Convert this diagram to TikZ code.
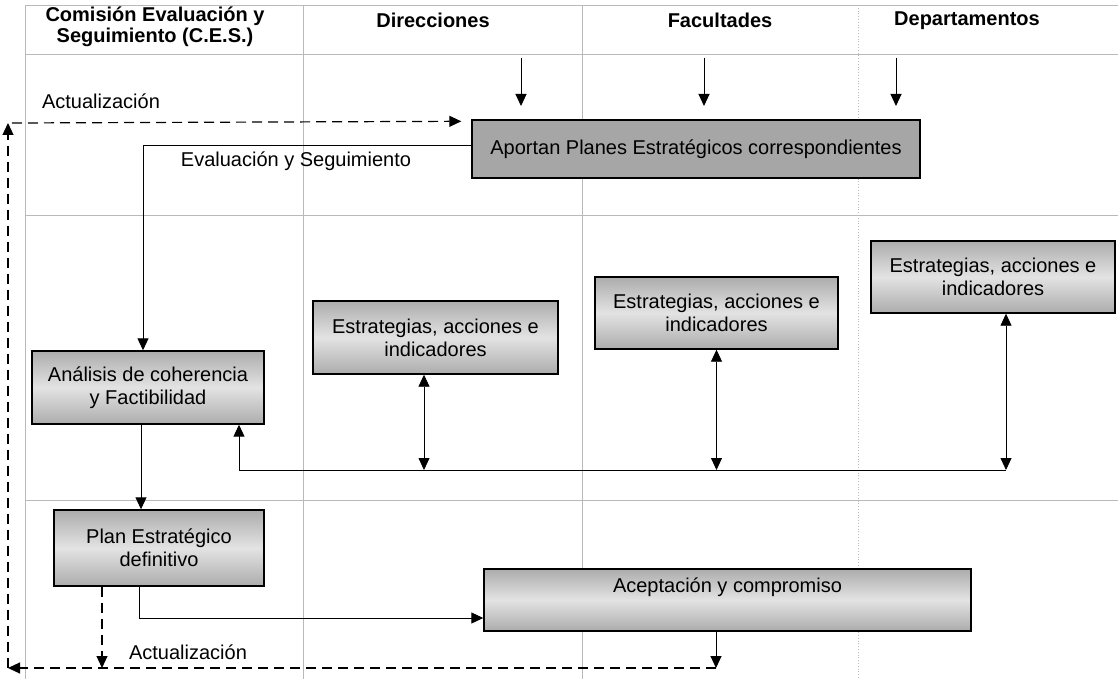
\documentclass[tikz,border=0pt]{standalone}
\usepackage{fontspec}
\setmainfont{Liberation Sans}
\usetikzlibrary{arrows.meta}

\tikzset{
  caja/.style={draw, line width=0.7pt, top color=gray!65, bottom color=gray!65, middle color=gray!22, align=center},
  cabecera/.style={font=\bfseries\fontsize{10pt}{10.5pt}\selectfont, align=center},
  rejilla/.style={draw=gray!55, line width=0.4pt},
  flecha/.style={-{Triangle[length=6pt,width=5.5pt]}, line width=0.5pt},
  discont/.style={flecha, line width=0.6pt, dash pattern=on 5pt off 3pt},
  doble/.style={{Triangle[length=6pt,width=5.5pt]}-{Triangle[length=6pt,width=5.5pt]}, line width=0.4pt},
}

\begin{document}
\begin{tikzpicture}[x=0.5pt, y=-0.5pt, every node/.style={font=\fontsize{10pt}{11.5pt}\selectfont}]
    \useasboundingbox (0,0) rectangle (1118,679);

    \draw[rejilla] (25,5) -- (1118,5);
    \draw[rejilla] (25,54) -- (1118,54);
    \draw[rejilla] (25,215) -- (1118,215);
    \draw[rejilla] (25,500) -- (1118,500);
    \draw[rejilla] (25,5) -- (25,679);
    \draw[rejilla] (303,5) -- (303,679);
    \draw[rejilla] (582,5) -- (582,679);
    \draw[rejilla, densely dotted] (858,5) -- (858,679);

    \node[cabecera] (ces) at (155,27) {Comisión Evaluación y\\Seguimiento (C.E.S.)};
    \node[cabecera] (direcciones) at (433,20) {Direcciones};
    \node[cabecera] (facultades) at (720,20) {Facultades};
    \node[cabecera] (departamentos) at (967,21) {Departamentos};

    \node[caja, top color=gray!70, middle color=gray!48, bottom color=gray!70, minimum width=224pt, minimum height=29pt] (aportan) at (696,149) {Aportan Planes Estratégicos correspondientes};
    \node[caja, minimum width=116pt, minimum height=36.5pt] (analisis) at (148,387.5) {Análisis de coherencia\\y Factibilidad};
    \node[caja, minimum width=122.5pt, minimum height=36.5pt] (estdir) at (435.5,337.5) {Estrategias, acciones e\\indicadores};
    \node[caja, minimum width=121.5pt, minimum height=36pt] (estfac) at (716.5,313) {Estrategias, acciones e\\indicadores};
    \node[caja, minimum width=122pt, minimum height=36pt] (estdep) at (993,277) {Estrategias, acciones e\\indicadores};
    \node[caja, minimum width=105pt, minimum height=38pt] (plan) at (159,548) {Plan Estratégico\\definitivo};
    \node[caja, minimum width=243.5pt, minimum height=31pt, label={[yshift=6.5pt]center:Aceptación y compromiso}] (aceptacion) at (727.5,600) {};

    \node (actsup) at (101,101) {Actualización};
    \node (actinf) at (188,652) {Actualización};
    \node (evaluacion) at (296,161) {Evaluación y Seguimiento};

    \coordinate (dir-a) at (521,58);
    \coordinate (dir-b) at (521,106);
    \coordinate (fac-a) at (704,58);
    \coordinate (fac-b) at (704,106);
    \coordinate (dep-a) at (896,58);
    \coordinate (dep-b) at (896,106);
    \draw[flecha] (dir-a) -- (dir-b);
    \draw[flecha] (fac-a) -- (fac-b);
    \draw[flecha] (dep-a) -- (dep-b);

    \draw[flecha] ([yshift=1.5pt]aportan.west) -| ([xshift=-2.5pt]analisis.north);
    \draw[flecha] ([xshift=-3.5pt]analisis.south) -- ([xshift=-3.5pt]analisis.south |- plan.north);

    \coordinate (bus) at (1006,470);
    \draw[flecha] (bus) -| ([xshift=45.5pt]analisis.south);
    \draw[doble] ([xshift=-5.75pt]estdir.south) -- ([xshift=-5.75pt]estdir.south |- bus);
    \draw[doble] (estfac.south) -- (estfac.south |- bus);
    \draw[doble] ([xshift=6.5pt]estdep.south) -- ([xshift=6.5pt]estdep.south |- bus);

    \draw[flecha] ([xshift=-10pt]plan.south) |- ([yshift=-9pt]aceptacion.west);

    \coordinate (ret) at (716,668);
    \coordinate (esq-inf) at (8,668);
    \coordinate (esq-sup) at (8,123);
    \draw[flecha] (aceptacion.south -| ret) -- (ret);
    \draw[discont] ([xshift=-28.5pt]plan.south) -- ([xshift=-28.5pt]plan.south |- ret);
    \draw[discont] (ret) -- (esq-inf);
    \draw[discont] (esq-inf) -- (esq-sup);
    \draw[discont] ([xshift=2pt]esq-sup) -- ([xshift=-5pt,yshift=-1pt]aportan.north west);

\end{tikzpicture}
\end{document}
